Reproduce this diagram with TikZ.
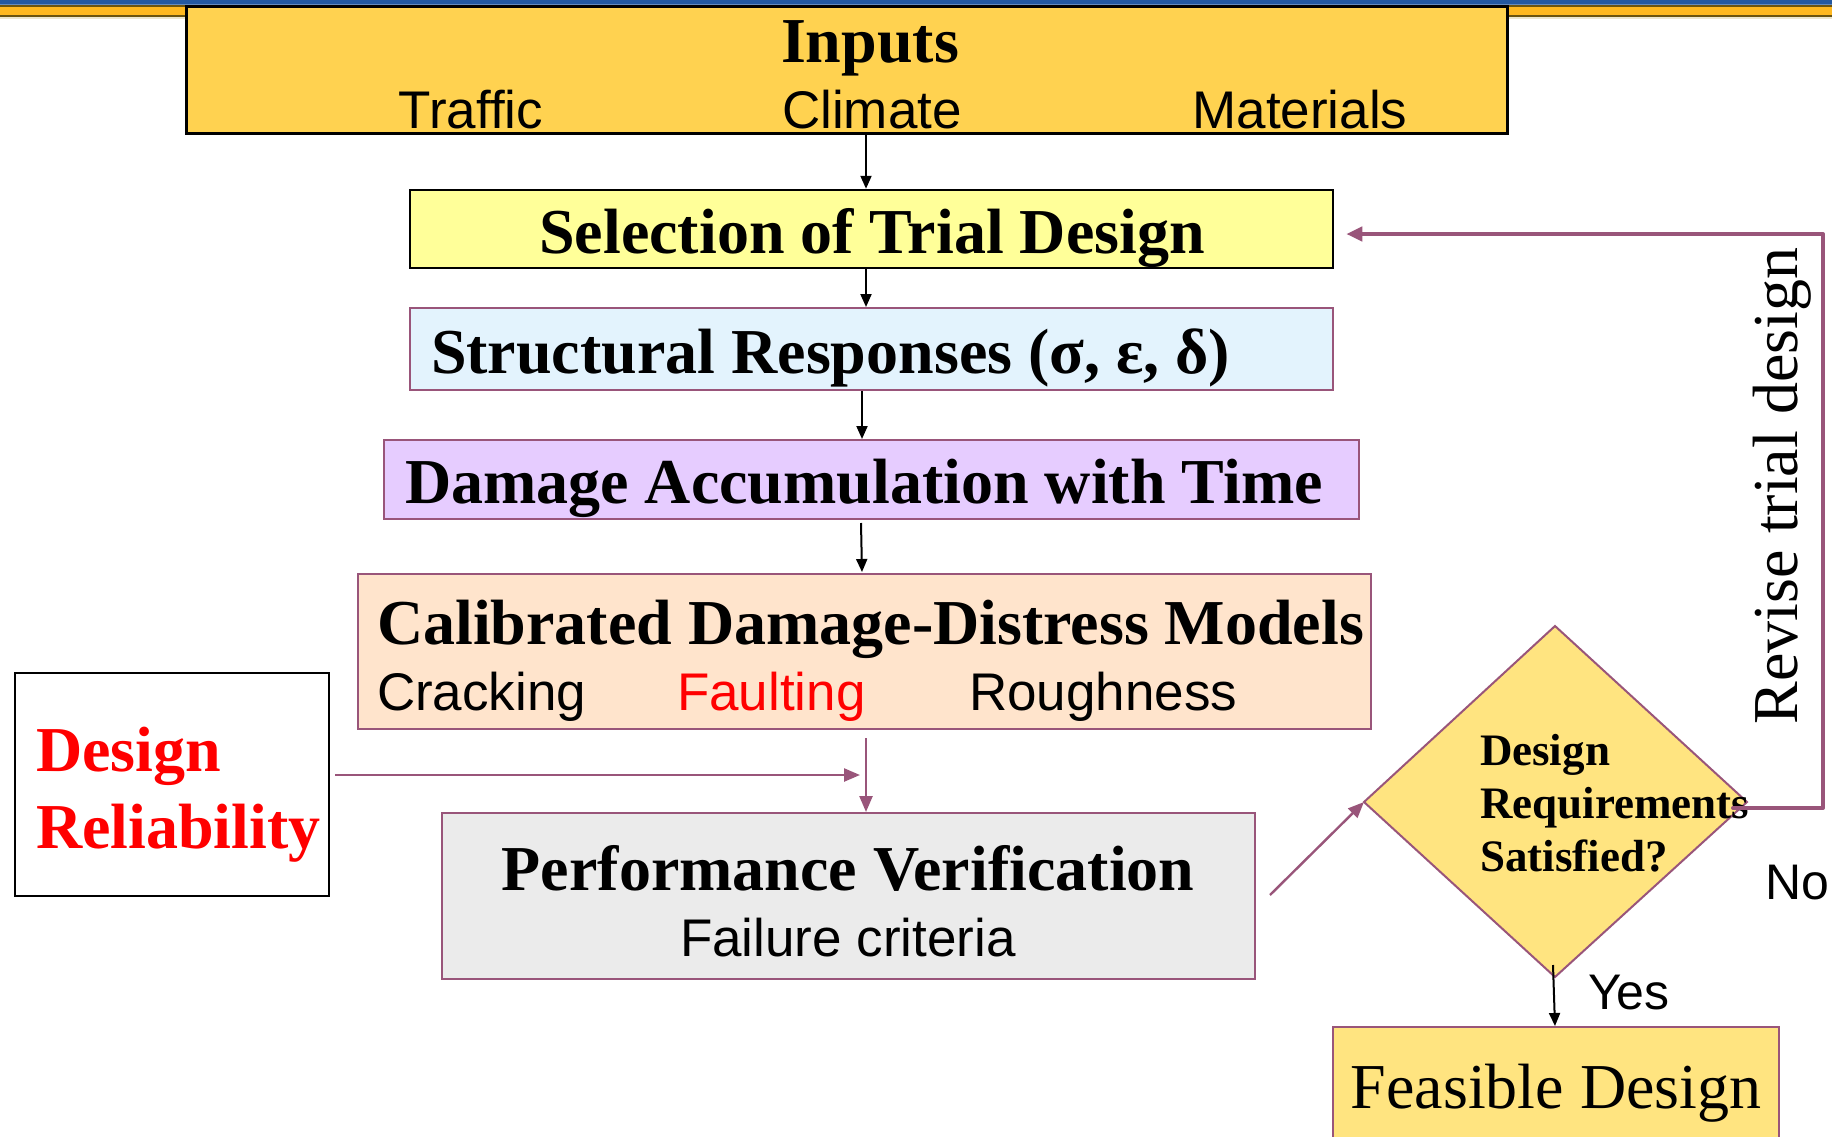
\documentclass[tikz,border=0pt]{standalone}
\usepackage{fontspec}
\setmainfont{Liberation Serif}
\newfontfamily\arial{Liberation Sans}
\usetikzlibrary{arrows.meta}

\definecolor{bandblue}{HTML}{2358A0}
\definecolor{bandbrown}{HTML}{6B5410}
\definecolor{bandgold}{HTML}{FFB81F}
\definecolor{bandpale}{HTML}{ECE6CF}
\definecolor{inputgold}{HTML}{FFD250}
\definecolor{trialyellow}{HTML}{FFFF99}
\definecolor{respblue}{HTML}{E3F3FD}
\definecolor{dmglilac}{HTML}{E6CCFF}
\definecolor{calpeach}{HTML}{FFE4CC}
\definecolor{perfgrey}{HTML}{EBEBEB}
\definecolor{decyellow}{HTML}{FFE480}
\definecolor{plum}{HTML}{99557A}
\definecolor{relred}{HTML}{FF0000}

\tikzset{
  x=1pt, y=-1pt,
  box/.style={draw=plum, line width=2pt, rectangle, inner sep=0pt},
  blackbox/.style={draw=black, line width=2.5pt, rectangle, inner sep=0pt},
  txt/.style={inner sep=0pt, outer sep=0pt},
  title/.style={txt, font=\bfseries\fontsize{64}{77}\selectfont},
  item/.style={txt, font=\arial\fontsize{53}{64}\selectfont},
  flow/.style={draw=black, line width=2pt, -{Triangle[length=13pt,width=11pt]}},
  plumflow/.style={draw=plum, line width=2.4pt, -{Triangle[length=16pt,width=13pt]}},
  loopback/.style={draw=plum, line width=4pt, line cap=round, line join=round, -{Triangle[length=16pt,width=14pt]}},
}

\begin{document}
\begin{tikzpicture}
\useasboundingbox (0,0) rectangle (1832,1136);
\fill[white] (0,0) rectangle (1832,1136);

% header band
\fill[bandblue] (0,0) rectangle (1832,4);
\fill[bandblue!70!white] (0,4) rectangle (1832,5);
\fill[bandbrown] (0,5) rectangle (1832,7);
\fill[bandgold] (0,7) rectangle (1832,15);
\fill[bandbrown] (0,15) rectangle (1832,17);
\fill[bandpale] (0,17) rectangle (1832,18.5);

% boxes
\node[blackbox, line width=3pt, fill=inputgold, minimum width=1321pt, minimum height=127pt] (inputs) at (846.5,69.5) {};
\node[blackbox, fill=trialyellow, minimum width=923pt, minimum height=78pt] (trial) at (871.5,229) {};
\node[box, fill=respblue, minimum width=923pt, minimum height=82pt] (resp) at (871.5,349) {};
\node[box, fill=dmglilac, minimum width=975pt, minimum height=79pt] (dmg) at (871.5,479.5) {};
\node[box, fill=calpeach, minimum width=1013pt, minimum height=155pt] (cal) at (864.5,651.5) {};
\node[draw=black, line width=2pt, inner sep=0pt, fill=white, minimum width=314pt, minimum height=223pt] (rel) at (172,784.5) {};
\node[box, fill=perfgrey, minimum width=813pt, minimum height=166pt] (perf) at (848.5,896) {};
\node[box, fill=decyellow, minimum width=446pt, minimum height=124pt] (feas) at (1555.5,1089) {};

% decision diamond
\coordinate (dl) at (1364,802);
\coordinate (dt) at (1555,626);
\coordinate (dr) at (1747,802);
\coordinate (db) at (1555,977);
\draw[plum, line width=2pt, fill=decyellow, line join=miter] (dl) -- (dt) -- (dr) -- (db) -- cycle;

% texts
\node[title, anchor=base] (tin) at (870,62) {Inputs};
\node[item, anchor=base] (ttraffic) at (471,128) {Traffic};
\node[item, anchor=base] (tclimate) at (872,128) {Climate};
\node[item, anchor=base] (tmaterials) at (1300,128) {Materials};

\node[title, anchor=base] (ttrial) at (872,253) {Selection of Trial Design};
\node[title, anchor=base west] (tresp) at (431,373) {Structural Responses (σ, ε, δ)};
\node[title, anchor=base west] (tdmg) at (405,503) {Damage Accumulation with Time};
\node[title, anchor=base west] (tcal) at (377,644) {Calibrated Damage-Distress Models};
\node[item, anchor=base west] (tcrack) at (377,710) {Cracking};
\node[item, anchor=base west, text=relred] (tfault) at (677,710) {Faulting};
\node[item, anchor=base west] (trough) at (969,710) {Roughness};

% multi-line labels are anchored on their last line
\node[title, anchor=base west, text=relred, align=left] (trel) at (36,848) {Design\\Reliability};

\node[title, anchor=base] (tperf) at (848,890) {Performance Verification};
\node[item, anchor=base] (tfail) at (848,956) {Failure criteria};

\node[txt, anchor=base west, align=left, font=\bfseries\fontsize{45}{53}\selectfont] (tdec) at (1480,871) {Design\\Requirements\\Satisfied?};

\node[txt, anchor=base, font=\fontsize{64}{77}\selectfont] (tfeas) at (1556,1108) {Feasible Design};
\node[txt, anchor=base, rotate=90, font=\fontsize{64}{77}\selectfont] (trev) at (1797,486) {Revise trial design};
\node[item, anchor=base west, font=\arial\fontsize{50}{60}\selectfont] (tno) at (1765,899) {No};
\node[item, anchor=base west, font=\arial\fontsize{50}{60}\selectfont] (tyes) at (1588,1009) {Yes};

% connectors
\draw[flow] (inputs.south -| 866,0) -- (trial.north -| 866,0);
\draw[flow] (trial.south -| 866,0) -- (resp.north -| 866,0);
\draw[flow] (resp.south -| 862,0) -- (dmg.north -| 862,0);
\draw[flow] ([yshift=-3pt]dmg.south -| 861,0) -- ([yshift=1pt]cal.north -| 862,0);

\coordinate (calout) at (866,738);
\draw[plumflow] (calout) -- (perf.north -| calout);
\coordinate (relout) at (335,775);
\coordinate (relin) at (860,775);
\draw[plumflow] (relout) -- (relin);

\coordinate (perfout) at (1270,895);
\draw[plumflow] (perfout) -- (dl);

\coordinate (decout) at (1733,808);
\coordinate (loopcorner) at (1823,808);
\draw[loopback] (decout) -- (loopcorner) |- ([xshift=12pt]trial.east |- 0,234);

\coordinate (decbot) at (1553,965);
\draw[flow] (decbot) -- (feas.north -| 1555,0);
\end{tikzpicture}
\end{document}
